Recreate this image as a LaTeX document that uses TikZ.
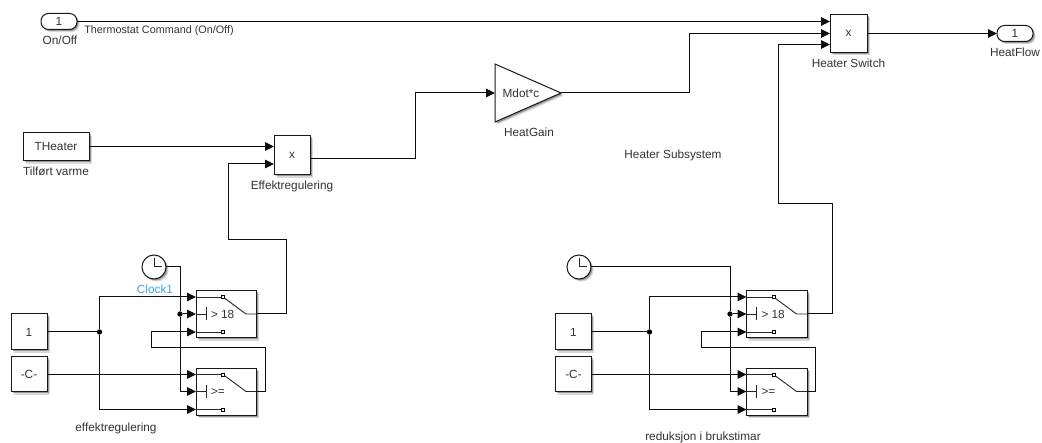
\documentclass[tikz,border=0pt]{standalone}
\usepackage{fontspec}
\setmainfont{Liberation Sans}
\usetikzlibrary{arrows.meta,shadows}
\definecolor{txt}{HTML}{333333}
\definecolor{clk}{HTML}{3FA4F4}
\tikzset{
  x=1pt,y=-1pt,
  every node/.style={font=\fontsize{11.8}{13}\selectfont,text=txt,inner sep=0pt,outer sep=0pt},
  blockbox/.style={draw=black!90,line width=1pt,fill=white,
    drop shadow={shadow xshift=2.6pt,shadow yshift=-2.6pt,opacity=0.15,fill=black},
    drop shadow={shadow xshift=1.5pt,shadow yshift=-1.5pt,opacity=0.3,fill=black}},
  portbox/.style={blockbox,rounded corners=7.5pt,minimum width=36pt,minimum height=16pt},
  wire/.style={draw=black!95,line width=1pt},
  arrowwire/.style={wire,-{Triangle[length=9pt,width=8.5pt]}},
  thin wire/.style={draw=black!85,line width=0.9pt},
  junction/.style={circle,fill=black,minimum size=5.4pt},
  pinmark/.style={draw=black,line width=0.9pt,fill=white,minimum size=3pt},
}
\newcommand{\switchblk}[4]{% name, left, top, label
  \begin{scope}[shift={(#2,#3)}]
    \node[blockbox,anchor=north west,minimum width=60.5pt,minimum height=47pt] (#1) at (0,0) {};
    \coordinate (#1a) at (0,6);
    \coordinate (#1b) at (0,23);
    \coordinate (#1c) at (0,41);
    \coordinate (#1o) at (60.5,23);
    \coordinate (#1k) at (50,23);
    \node[pinmark] (#1t) at (27,6) {};
    \node[pinmark] (#1u) at (27,41) {};
    \coordinate (#1bar) at (10,23);
    \draw[thin wire] (#1a) -- (#1t);
    \draw[thin wire] (#1c) -- (#1u);
    \draw[thin wire] (#1t) -- (#1k) -- (#1o);
    \draw[thin wire] (#1b) -- (#1bar);
    \draw[thin wire] (10,16.5) -- (10,29.5);
    \node[anchor=west,font=\fontsize{11.8}{13}\selectfont] (#1l) at (15,23.5) {#4};
  \end{scope}}
\newcommand{\clockblk}[3]{% name, x, y
  \node[blockbox,circle,minimum size=24pt] (#1) at (#2,#3) {};
  \draw[thin wire,line width=1pt] (#2,#3-9) -- (#2,#3) -- (#2+8,#3);}
\begin{document}
\begin{tikzpicture}
\useasboundingbox (0,0) rectangle (1042,443);
\fill[white] (0,0) rectangle (1042,443);
% top row
\node[portbox] (onoff) at (59,21.5) {1};
\node (onoffl) at (60,40.5) {On/Off};
\node[font=\fontsize{10.8}{12}\selectfont] (therm) at (159,30.5) {Thermostat Command (On/Off)};
\node[blockbox,minimum width=37pt,minimum height=38pt] (hs) at (848.5,33.5) {x};
\node (hsl) at (848.5,63) {Heater Switch};
\coordinate (hs1) at (830,21.5);
\coordinate (hs2) at (830,33.5);
\coordinate (hs3) at (830,44.5);
\node[portbox] (hf) at (1015,33.5) {1};
\node (hfl) at (1015,52.5) {HeatFlow};
% middle
\node[blockbox,minimum width=66pt,minimum height=28pt] (ther) at (56,147) {THeater};
\node (therl) at (56,171.5) {Tilført varme};
\node[blockbox,minimum width=36pt,minimum height=39pt] (prod) at (292,155.5) {x};
\node (prodl) at (292,186.5) {Effektregulering};
\coordinate (prod1) at (274,146.5);
\coordinate (prod2) at (274,164);
\coordinate (prodo) at (310,158.5);
\path[blockbox,draw=black!90,line join=miter] (495,64) -- (561,93) -- (495,122) -- cycle;
\coordinate (gaini) at (495,93);
\coordinate (gaino) at (561,93);
\node (gaintext) at (521,93.5) {Mdot*c};
\node (gainl) at (529,132) {HeatGain};
\node (subsys) at (673,155.5) {Heater Subsystem};
% left group
\clockblk{clka}{154}{267}
\node[text=clk] (clkal) at (155,289) {Clock1};
\node[blockbox,minimum width=36pt,minimum height=36pt] (ca) at (29,332) {1};
\node[blockbox,minimum width=36pt,minimum height=35pt] (cb) at (29,374.5) {-C-};
\switchblk{sa}{196}{291}{> 18}
\switchblk{sb}{196}{368.5}{>=}
\node (effl) at (116,428.5) {effektregulering};
\node[junction] (ja) at (99.5,332) {};
\node[junction] (jb) at (180,314) {};
% right group
\clockblk{clkb}{579}{267}
\node[blockbox,minimum width=36pt,minimum height=36pt] (cc) at (573.5,332) {1};
\node[blockbox,minimum width=36pt,minimum height=35pt] (cd) at (573.5,374.5) {-C-};
\switchblk{sc}{746.5}{291}{> 18}
\switchblk{sd}{746.5}{368.5}{>=}
\node (redl) at (703,437) {reduksjon i brukstimar};
\node[junction] (jc) at (649.5,332) {};
\node[junction] (jd) at (730,314) {};
% connectors: top
\draw[arrowwire] (onoff.east |- hs1) -- (hs1);
\draw[arrowwire] (hs.east) -- (hf.west);
\draw[arrowwire] (ther.east |- prod1) -- (prod1);
\draw[arrowwire] (prodo) -- (415,158.5) -- (415,93) -- (gaini);
\draw[arrowwire] (gaino) -- (689,93) -- (689,33.5) -- (hs2);
\draw[arrowwire] (sco) -- (832,314) -- (832,204) -- (778,204) -- (778,44.5) -- (hs3);
\draw[arrowwire] (sao) -- (286,314) -- (286,240) -- (228,240) -- (228,164) -- (prod2);
% connectors: left group
\draw[wire] (ca.east) -- (ja);
\draw[arrowwire] (ja) |- (saa);
\draw[arrowwire] (ja) |- (sbc);
\draw[arrowwire] (cb.east |- sba) -- (sba);
\draw[wire] (clka.east) -- (180,267) -- (jb);
\draw[arrowwire] (jb) -- (sab);
\draw[arrowwire] (jb) |- (sbb);
\draw[arrowwire] (sbo) -- (265,391.5) -- (265,348) -- (151,348) -- (151,332) -- (sac);
% connectors: right group
\draw[wire] (cc.east) -- (jc);
\draw[arrowwire] (jc) |- (sca);
\draw[arrowwire] (jc) |- (sdc);
\draw[arrowwire] (cd.east |- sda) -- (sda);
\draw[wire] (clkb.east) -- (730,267) -- (jd);
\draw[arrowwire] (jd) -- (scb);
\draw[arrowwire] (jd) |- (sdb);
\draw[arrowwire] (sdo) -- (815,391.5) -- (815,348) -- (701,348) -- (701,332) -- (scc);
\end{tikzpicture}
\end{document}
